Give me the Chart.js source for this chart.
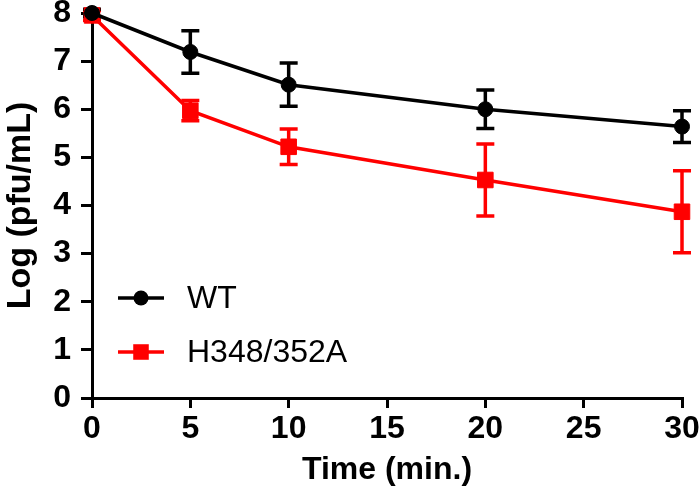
<!DOCTYPE html>
<html>
<head>
<meta charset="utf-8">
<script src="https://cdn.jsdelivr.net/npm/chart.js@4/dist/chart.umd.min.js"></script>
<style>
  html, body { margin: 0; padding: 0; background: #fff; }
  #wrap { width: 700px; height: 491px; }
</style>
</head>
<body>
<div id="wrap"><canvas id="c" width="700" height="491"></canvas></div>
<script>
// ---- data ----
const times = [0, 5, 10, 20, 30];
const seriesNames = ["WT", "H348/352A"];
const wtMean = [8.0, 7.19, 6.51, 6.0, 5.64];
const wtErr  = [0.08, 0.44, 0.45, 0.40, 0.33];
const mutMean = [7.95, 5.97, 5.22, 4.53, 3.87];
const mutErr  = [0.10, 0.21, 0.37, 0.75, 0.85];
const yTicks = [0, 1, 2, 3, 4, 5, 6, 7, 8];
const xTicks = [0, 5, 10, 15, 20, 25, 30];
const xTitle = "Time (min.)";
const yTitle = "Log (pfu/mL)";

const FONT = "'Liberation Sans', Arial, sans-serif";

function toPts(xs, ys) { return xs.map((x, i) => ({ x: x, y: ys[i] })); }

const errorBars = {
  id: 'errorBars',
  beforeDatasetsDraw(chart) {
    const ctx = chart.ctx;
    const xs = chart.scales.x, ys = chart.scales.y;
    const errs = [wtErr, mutErr];
    for (let d = chart.data.datasets.length - 1; d >= 0; d--) {
      const ds = chart.data.datasets[d];
      const e = errs[d];
      ctx.save();
      ctx.strokeStyle = ds.borderColor;
      ctx.lineWidth = 3.5;
      ds.data.forEach((p, i) => {
        const px = xs.getPixelForValue(p.x);
        const top = ys.getPixelForValue(p.y + e[i]);
        const bot = ys.getPixelForValue(p.y - e[i]);
        const cap = 9;
        ctx.beginPath();
        ctx.moveTo(px, top); ctx.lineTo(px, bot);
        ctx.moveTo(px - cap, top); ctx.lineTo(px + cap, top);
        ctx.moveTo(px - cap, bot); ctx.lineTo(px + cap, bot);
        ctx.stroke();
      });
      ctx.restore();
    }
  }
};

const innerLegend = {
  id: 'innerLegend',
  afterDraw(chart) {
    const ctx = chart.ctx;
    const rows = [298, 352];
    chart.data.datasets.forEach((ds, i) => {
      const y = rows[i];
      ctx.save();
      ctx.strokeStyle = ds.borderColor;
      ctx.lineWidth = 3.5;
      ctx.beginPath();
      ctx.moveTo(118, y); ctx.lineTo(164, y);
      ctx.stroke();
      ctx.fillStyle = ds.pointBackgroundColor;
      ctx.beginPath();
      if (ds.pointStyle === 'circle') {
        ctx.arc(141, y, ds.pointRadius, 0, Math.PI * 2);
      } else {
        const s = Math.SQRT1_2 * ds.pointRadius;
        ctx.rect(141 - s, y - s, 2 * s, 2 * s);
      }
      ctx.fill();
      ctx.fillStyle = '#000';
      ctx.font = "32px " + FONT;
      ctx.textBaseline = 'middle';
      ctx.textAlign = 'left';
      ctx.fillText(seriesNames[i], 187, y + 1);
      ctx.restore();
    });
  }
};

new Chart(document.getElementById('c'), {
  type: 'line',
  data: {
    datasets: [
      {
        label: seriesNames[0],
        data: toPts(times, wtMean),
        borderColor: '#000000',
        backgroundColor: '#000000',
        pointBackgroundColor: '#000000',
        pointBorderColor: '#000000',
        pointStyle: 'circle',
        pointRadius: 7.5,
        pointBorderWidth: 1,
        borderWidth: 3.5,
        tension: 0,
        clip: false
      },
      {
        label: seriesNames[1],
        data: toPts(times, mutMean),
        borderColor: '#ff0000',
        backgroundColor: '#ff0000',
        pointBackgroundColor: '#ff0000',
        pointBorderColor: '#ff0000',
        pointStyle: 'rect',
        pointRadius: 11,
        pointBorderWidth: 1,
        borderWidth: 3.5,
        tension: 0,
        clip: false
      }
    ]
  },
  options: {
    responsive: false,
    animation: false,
    devicePixelRatio: 1,
    layout: { padding: { top: 13, right: 18, left: 0, bottom: 0 } },
    plugins: { legend: { display: false }, tooltip: { enabled: false } },
    scales: {
      x: {
        type: 'linear',
        min: 0, max: 30,
        afterBuildTicks(scale) { scale.ticks = xTicks.map(v => ({ value: v })); },
        afterFit(scale) { scale.height = 93; scale.paddingLeft = 0; scale.paddingRight = 0; },
        grid: { display: true, drawOnChartArea: false, drawTicks: true, tickLength: 10, tickColor: '#000', tickWidth: 3, color: '#000', lineWidth: 3 },
        border: { display: true, color: '#000', width: 3 },
        ticks: { color: '#000', padding: 2, maxRotation: 0, font: { family: FONT, size: 32, weight: 'bold' } },
        title: { display: true, text: xTitle, color: '#000', padding: { top: 0, bottom: 2 }, font: { family: FONT, size: 32, weight: 'bold' } }
      },
      y: {
        type: 'linear',
        min: 0, max: 8,
        afterBuildTicks(scale) { scale.ticks = yTicks.map(v => ({ value: v })); },
        afterFit(scale) { scale.width = 92; scale.paddingTop = 0; scale.paddingBottom = 0; },
        grid: { display: true, drawOnChartArea: false, drawTicks: true, tickLength: 11, tickColor: '#000', tickWidth: 3, color: '#000', lineWidth: 3 },
        border: { display: true, color: '#000', width: 3 },
        ticks: { color: '#000', padding: 10, font: { family: FONT, size: 32, weight: 'bold' } },
        title: { display: true, text: yTitle, color: '#000', padding: { top: 0, bottom: 0 }, font: { family: FONT, size: 34, weight: 'bold' } }
      }
    }
  },
  plugins: [errorBars, innerLegend]
});
</script>
</body>
</html>
